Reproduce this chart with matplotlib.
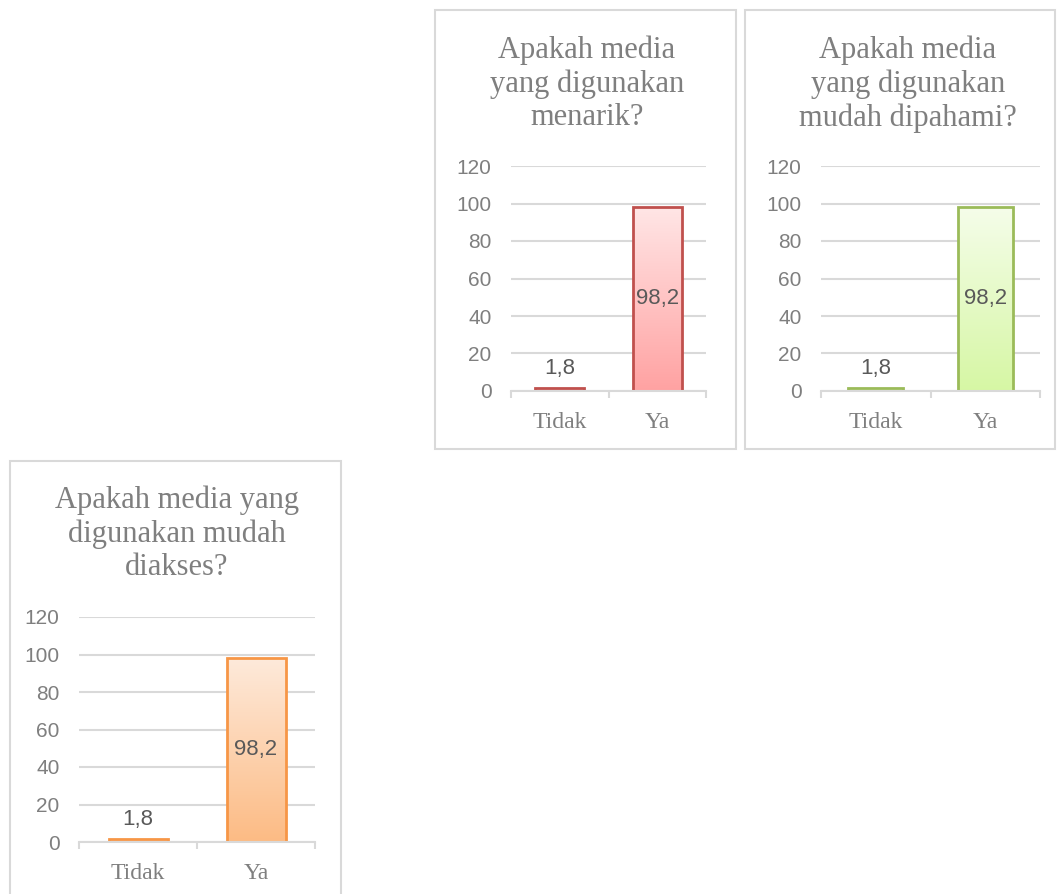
import matplotlib.pyplot as plt
import matplotlib.patches as patches
import numpy as np
from matplotlib.colors import LinearSegmentedColormap

categories = ["Tidak", "Ya"]
values = [1.8, 98.2]
value_labels = ["1,8", "98,2"]
titles = [
    "Apakah media\nyang digunakan\nmenarik?",
    "Apakah media\nyang digunakan\nmudah dipahami?",
    "Apakah media yang\ndigunakan mudah\ndiakses?",
]
yticks = [0, 20, 40, 60, 80, 100, 120]

# bar styles: (top colour, bottom colour, edge colour)
styles = [
    ("#ffe6e6", "#ffa2a2", "#c0504d"),
    ("#f5fdea", "#d6f7a4", "#9bbb59"),
    ("#feeadb", "#fcbb84", "#f79646"),
]

W, H = 1057, 894
fig = plt.figure(figsize=(W / 100, H / 100), dpi=100)
fig.patch.set_facecolor("white")

# panel layout in pixels: box (x0, y0, x1, y1), plot area (x0, y0, x1, y1), title centre (x, y)
boxes = [(435, 10, 736, 449), (745, 10, 1055, 449), (10, 461, 341, 900)]
areas = [(511, 166, 706, 391), (821, 166, 1040, 391), (79, 617, 315, 842)]
title_pos = [(587, 84), (908, 84), (177, 534)]


def fx(x):
    return x / W


def fy(y):
    return 1 - y / H


for i in range(3):
    bx0, by0, bx1, by1 = boxes[i]
    fig.patches.append(patches.Rectangle((fx(bx0), fy(by1)), fx(bx1) - fx(bx0), fy(by0) - fy(by1),
                                         transform=fig.transFigure, fill=False,
                                         edgecolor="#d9d9d9", linewidth=1.5))

    ax0, ay0, ax1, ay1 = areas[i]
    ax = fig.add_axes([fx(ax0), fy(ay1), fx(ax1) - fx(ax0), fy(ay0) - fy(ay1)])
    ax.set_facecolor("none")

    top_c, bot_c, edge_c = styles[i]
    cmap = LinearSegmentedColormap.from_list("g%d" % i, [bot_c, top_c])
    x = np.arange(len(categories))
    bars = ax.bar(x, values, width=0.5, color="none", edgecolor=edge_c, linewidth=2, zorder=3)
    grad = np.linspace(0, 1, 256).reshape(-1, 1)
    for b in bars:
        bx, bw, bh = b.get_x(), b.get_width(), b.get_height()
        img = ax.imshow(grad, cmap=cmap, origin="lower", aspect="auto",
                        extent=[bx, bx + bw, 0, bh], zorder=2)
        img.set_clip_path(b)

    ax.set_xlim(-0.5, 1.5)
    ax.set_ylim(0, 120)

    ax.set_yticks(yticks)
    ax.yaxis.grid(True, color="#d9d9d9", linewidth=1.5)
    ax.set_axisbelow(True)
    for s in ["top", "right", "left"]:
        ax.spines[s].set_visible(False)
    ax.spines["bottom"].set_color("#d9d9d9")
    ax.spines["bottom"].set_linewidth(1.5)
    ax.spines["bottom"].set_zorder(4)

    ax.tick_params(axis="y", length=0, pad=14, labelsize=15, labelcolor="#7f7f7f")
    for lab in ax.get_yticklabels():
        lab.set_fontfamily("Liberation Sans")

    ax.set_xticks(x)
    ax.set_xticklabels(categories, fontfamily="Liberation Serif", fontsize=17, color="#7f7f7f")
    ax.tick_params(axis="x", which="major", length=0, pad=15)
    ax.set_xticks([-0.5, 0.5, 1.5], minor=True)
    ax.tick_params(axis="x", which="minor", length=5, width=1.5, color="#d9d9d9")

    # data labels
    ax.annotate(value_labels[0], (x[0], values[0]), xytext=(0, 6), textcoords="offset points",
                ha="center", va="bottom", fontsize=16, color="#595959", fontfamily="Liberation Sans")
    ax.text(x[1], values[1] / 2, value_labels[1], ha="center", va="center",
            fontsize=16, color="#595959", fontfamily="Liberation Sans", zorder=5)

    tx, ty = title_pos[i]
    fig.text(fx(tx), fy(ty), titles[i], ha="center", va="center", multialignment="center",
             fontsize=22, color="#7f7f7f", fontfamily="Liberation Serif", linespacing=1.2)

fig.savefig("out.png", dpi=100, facecolor="white")
